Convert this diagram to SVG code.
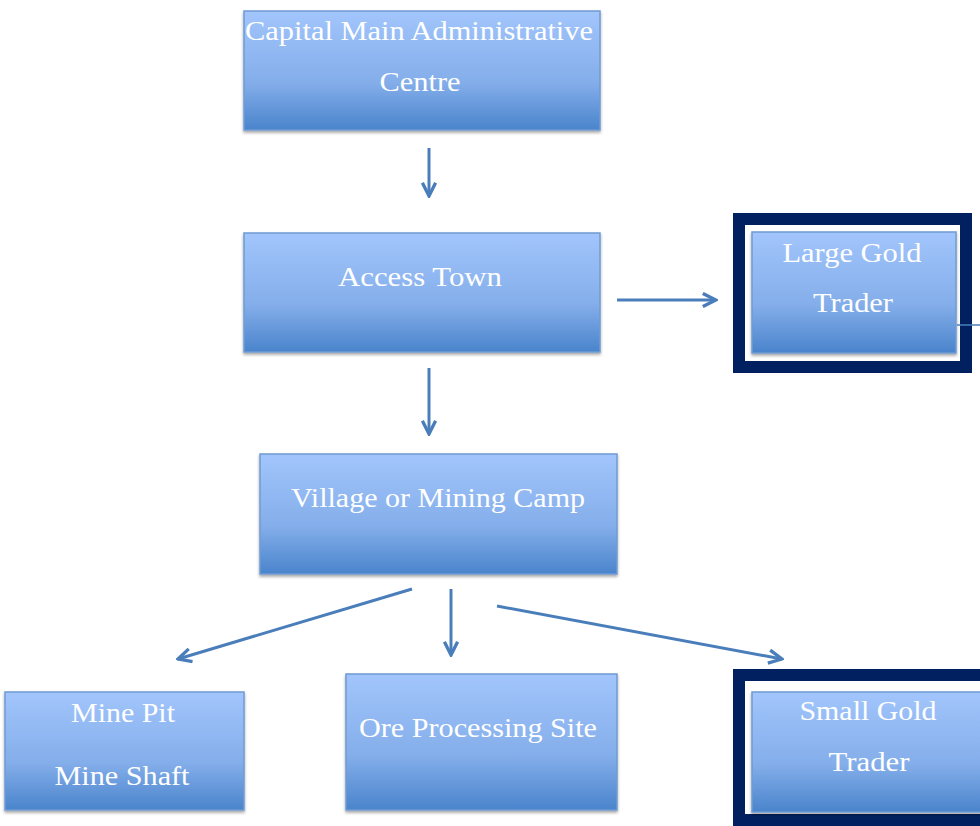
<svg xmlns="http://www.w3.org/2000/svg" width="980" height="826" viewBox="0 0 980 826">
<style>
.box{fill:url(#g);stroke:#6f9bd3;stroke-width:1.5;filter:url(#sh)}
.t{font-family:"Liberation Serif","Times New Roman",serif;font-size:27px;fill:#ffffff;text-anchor:middle}
.c{stroke:#4a7ebb;stroke-width:3;fill:none;marker-end:url(#a)}
.frame{fill:#ffffff;stroke:#00205f;stroke-width:12}
</style>
<defs>
<linearGradient id="g" x1="0" y1="0" x2="0" y2="1">
<stop offset="0" stop-color="#a2c5fc"/>
<stop offset="0.6" stop-color="#84aeea"/>
<stop offset="1" stop-color="#4a84cc"/>
</linearGradient>
<filter id="sh" x="-10%" y="-10%" width="120%" height="130%">
<feDropShadow dx="0" dy="2" stdDeviation="1.5" flood-color="#000" flood-opacity="0.35"/>
</filter>
<marker id="a" viewBox="0 0 10 10" refX="9" refY="5" markerWidth="5.5" markerHeight="5.5" orient="auto" markerUnits="strokeWidth">
<path d="M1,1 L9,5 L1,9" fill="none" stroke="#4a7ebb" stroke-width="2"/>
</marker>
</defs>
<rect width="980" height="826" fill="#ffffff"/>
<g id="capital">
<rect class="box" x="244" y="11" width="356" height="119"/>
<text class="t" x="419" y="40" textLength="348" lengthAdjust="spacingAndGlyphs">Capital Main Administrative</text>
<text class="t" x="420" y="91" textLength="81" lengthAdjust="spacingAndGlyphs">Centre</text>
</g>
<g id="access">
<rect class="box" x="244" y="233" width="356" height="119"/>
<text class="t" x="420" y="286" textLength="164" lengthAdjust="spacingAndGlyphs">Access Town</text>
</g>
<g id="large">
<rect class="frame" x="739" y="219" width="227" height="148"/>
<rect class="box" x="752" y="232" width="204" height="121"/>
<text class="t" x="852" y="262" textLength="139" lengthAdjust="spacingAndGlyphs">Large Gold</text>
<text class="t" x="853" y="312" textLength="80" lengthAdjust="spacingAndGlyphs">Trader</text>
</g>
<g id="village">
<rect class="box" x="260" y="454" width="357" height="120"/>
<text class="t" x="438" y="507" textLength="294" lengthAdjust="spacingAndGlyphs">Village or Mining Camp</text>
</g>
<g id="minepit">
<rect class="box" x="5" y="692" width="239" height="118"/>
<text class="t" x="123" y="722" textLength="104" lengthAdjust="spacingAndGlyphs">Mine Pit</text>
<text class="t" x="122" y="785" textLength="135" lengthAdjust="spacingAndGlyphs">Mine Shaft</text>
</g>
<g id="ore">
<rect class="box" x="346" y="674" width="271" height="136"/>
<text class="t" x="478" y="737" textLength="238" lengthAdjust="spacingAndGlyphs">Ore Processing Site</text>
</g>
<g id="small">
<rect class="frame" x="739" y="675" width="260" height="145"/>
<rect class="box" x="752" y="692" width="240" height="120"/>
<text class="t" x="868" y="720" textLength="137" lengthAdjust="spacingAndGlyphs">Small Gold</text>
<text class="t" x="869" y="771" textLength="81" lengthAdjust="spacingAndGlyphs">Trader</text>
</g>
<g id="connectors">
<line class="c" x1="429" y1="148" x2="429" y2="196"/>
<line class="c" x1="617" y1="300" x2="716" y2="300"/>
<line x1="957" y1="325" x2="980" y2="325" stroke="#4a7ebb" stroke-width="1.5"/>
<line class="c" x1="429" y1="368" x2="429" y2="434"/>
<line class="c" x1="412" y1="589" x2="178" y2="659"/>
<line class="c" x1="451" y1="589" x2="451" y2="655"/>
<line class="c" x1="497" y1="606" x2="782" y2="659"/>
</g>
</svg>
